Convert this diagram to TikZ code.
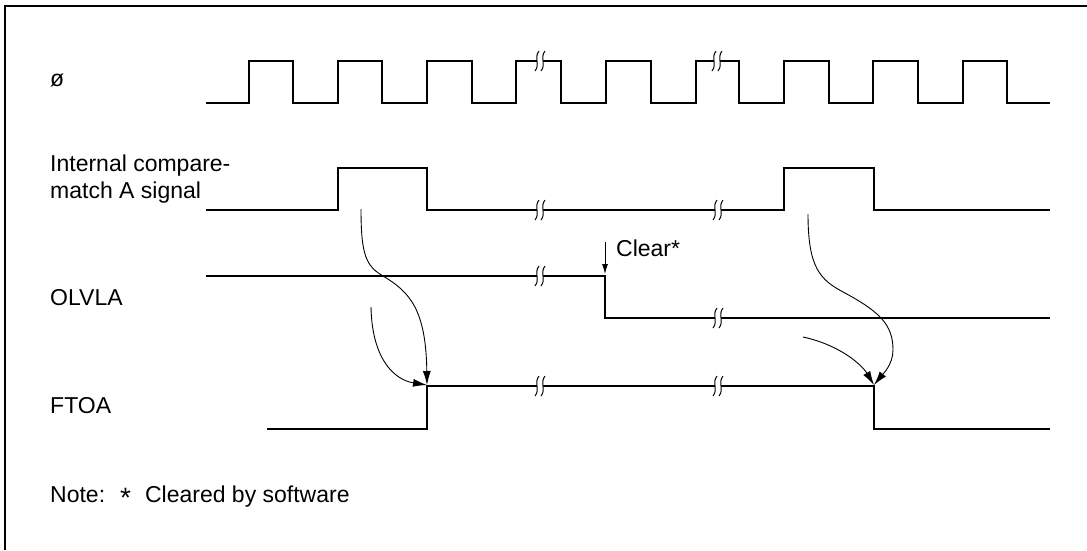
\documentclass[tikz,border=0pt]{standalone}
\usepackage{fontspec}
\setmainfont{Liberation Sans}
\usetikzlibrary{arrows.meta}
\tikzset{
  sig/.style={line width=1.3pt, line join=miter},
  flow/.style={line width=0.9pt, -{Latex[length=14pt,width=8pt]}},
  clrarrow/.style={line width=0.9pt, -{Latex[length=10pt,width=6pt]}},
  lbl/.style={anchor=base west, inner sep=0pt, font=\fontsize{23}{27}\selectfont},
  brkmark/.pic={
    \fill[white] (-1,-10) .. controls (-6.5,-3) and (1,3) .. (-5,10) -- (1,10) .. controls (7,3) and (-0.5,-3) .. (5,-10) -- cycle;
    \draw[line width=1pt] (-1,-10) .. controls (-6.5,-3) and (0.5,3) .. (-5,10);
    \draw[line width=1pt] (5,-10) .. controls (-0.5,-3) and (6.5,3) .. (1,10);
  }
}
\begin{document}
\begin{tikzpicture}[x=1pt,y=-1pt]
\useasboundingbox (0,0) rectangle (1087,550);
% frame
\draw[line width=2pt] (1087,6) -- (5,6) -- (5,550);

% labels
\node[lbl] (phi) at (50,86) {ø};
\node[lbl] (cmp) at (50,171) {\begin{tabular}[t]{@{}l@{}}Internal compare-\\match A signal\end{tabular}};
\node[lbl] (olv) at (50,305) {OLVLA};
\node[lbl] (fto) at (50,413) {FTOA};
\node[lbl] (clr) at (616,256) {Clear*};
\node[lbl] (note) at (50,502) {Note:\hspace{15pt}\raisebox{-5.5pt}{\fontsize{28}{28}\selectfont *}\hspace{14pt}Cleared by software};

% clock
\draw[sig] (206,103) -- (249,103) -- (249,61) -- (293,61) -- (293,103) -- (338,103) -- (338,61) -- (382,61) -- (382,103) -- (427,103) -- (427,61) -- (472,61) -- (472,103) -- (516,103) -- (516,61) -- (561,61) -- (561,103) -- (606,103) -- (606,61) -- (651,61) -- (651,103) -- (696,103) -- (696,61) -- (739,61) -- (739,103) -- (784,103) -- (784,61) -- (829,61) -- (829,103) -- (873,103) -- (873,61) -- (918,61) -- (918,103) -- (963,103) -- (963,61) -- (1007,61) -- (1007,103) -- (1050,103);
\pic at (540,61) {brkmark};
\pic at (717,61) {brkmark};

% compare-match signal
\draw[sig] (206,210) -- (338,210) -- (338,168) -- (427,168) -- (427,210) -- (784,210) -- (784,168) -- (874,168) -- (874,210) -- (1050,210);
\pic at (540,210) {brkmark};
\pic at (718,210) {brkmark};

% OLVLA
\draw[sig] (206,276) -- (605,276) -- (605,318) -- (1050,318);
\pic at (540,276) {brkmark};
\pic at (718,318) {brkmark};

% FTOA
\draw[sig] (267,429) -- (427,429) -- (427,386) -- (874,386) -- (874,429) -- (1050,429);
\pic at (540,386) {brkmark};
\pic at (718,386) {brkmark};

% coordinates for connectors
\coordinate (clrS) at (605,242);
\coordinate (clrE) at (605,274);
\coordinate (a1s) at (361,209);
\coordinate (a2s) at (371,307);
\coordinate (tipL) at (427,385);
\coordinate (a3s) at (808,214);
\coordinate (a4s) at (803,337);
\coordinate (tipR) at (874,385);

\draw[clrarrow] (clrS) -- (clrE);
\draw[flow] (a1s) .. controls (361,255) and (366,266) .. (383,276) .. controls (410,292) and (426,310) .. (tipL);
\draw[flow] (a2s) .. controls (372,360) and (395,380) .. (tipL);
\draw[flow] (a3s) .. controls (808,268) and (820,280) .. (845,293) .. controls (880,312) and (893,325) .. (893,350) .. controls (893,365) and (882,375) .. (tipR);
\draw[flow] (a4s) .. controls (840,345) and (862,365) .. (tipR);
\end{tikzpicture}
\end{document}
